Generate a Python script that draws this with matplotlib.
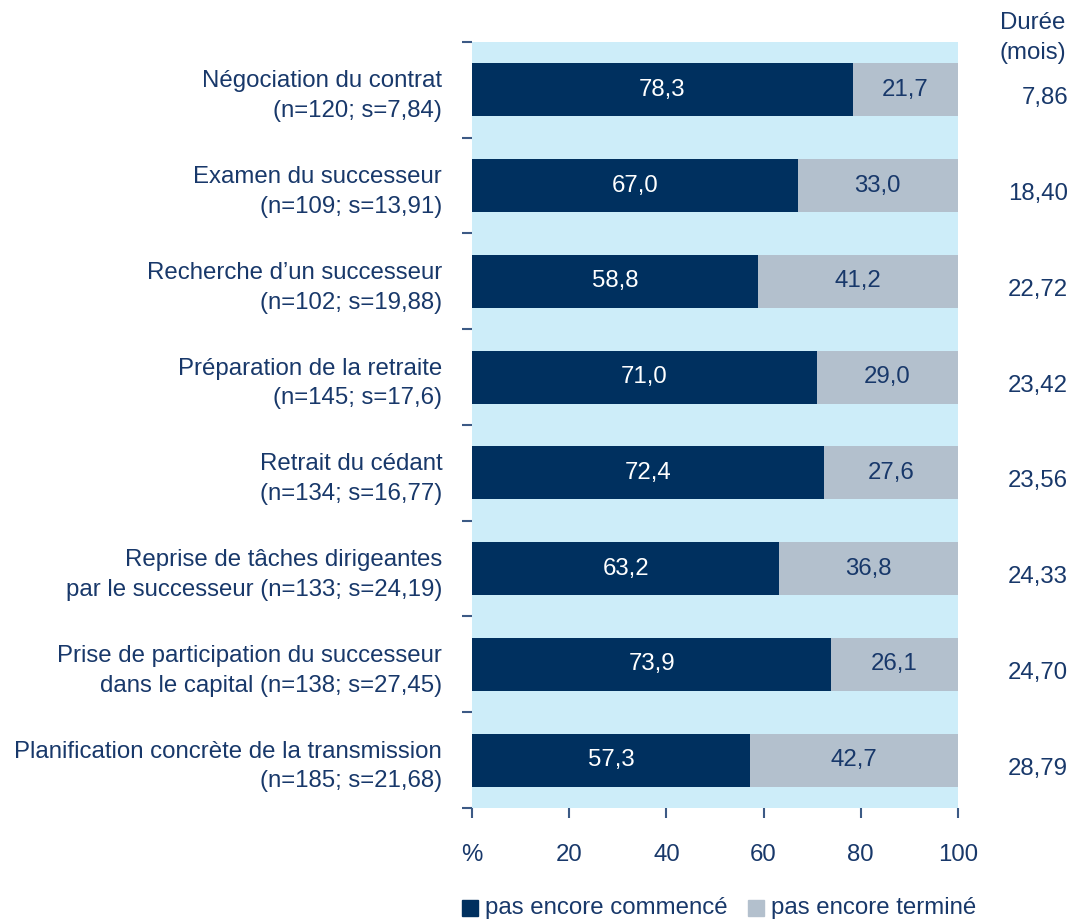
import matplotlib
matplotlib.use("Agg")
import matplotlib.pyplot as plt
from matplotlib.patches import Rectangle
import matplotlib.transforms as mtransforms
import numpy as np

plt.rcParams['font.family'] = ['Liberation Sans', 'DejaVu Sans']

categories = [
    "Négociation du contrat\n(n=120; s=7,84)",
    "Examen du successeur\n(n=109; s=13,91)",
    "Recherche d\u2019un successeur\n(n=102; s=19,88)",
    "Préparation de la retraite\n(n=145; s=17,6)",
    "Retrait du cédant\n(n=134; s=16,77)",
    "Reprise de tâches dirigeantes\npar le successeur (n=133; s=24,19)",
    "Prise de participation du successeur\ndans le capital (n=138; s=27,45)",
    "Planification concrète de la transmission\n(n=185; s=21,68)",
]
not_started = [78.3, 67.0, 58.8, 71.0, 72.4, 63.2, 73.9, 57.3]
not_finished = [21.7, 33.0, 41.2, 29.0, 27.6, 36.8, 26.1, 42.7]
duration = ["7,86", "18,40", "22,72", "23,42", "23,56", "24,33", "24,70", "28,79"]
xticks = [0, 20, 40, 60, 80, 100]
xticklabels = ["%", "20", "40", "60", "80", "100"]

NAVY = "#00305f"
GREY = "#b3c0cd"
BG = "#cdedf9"
TXT = "#18386a"
FS = 17.3

fig = plt.figure(figsize=(10.71, 9.21), dpi=100)
ax = fig.add_axes([0.4407, 0.1227, 0.4538, 0.8317])
ax.set_facecolor(BG)

y = np.arange(len(categories))
h = 0.555
ax.barh(y, not_started, height=h, color=NAVY, edgecolor="none")
ax.barh(y, not_finished, left=not_started, height=h, color=GREY, edgecolor="none")

def fmt(v):
    return f"{v:.1f}".replace(".", ",")

for i, (a, b) in enumerate(zip(not_started, not_finished)):
    ax.text(a / 2, i, fmt(a), ha="center", va="center", color="white", fontsize=FS)
    ax.text(a + b / 2, i, fmt(b), ha="center", va="center", color=TXT, fontsize=FS)

ax.set_xlim(0, 100)
ax.set_ylim(len(categories) - 0.5, -0.5)
for s in ax.spines.values():
    s.set_visible(False)

ax.set_xticks(xticks)
ax.set_xticklabels(xticklabels, fontsize=FS, color=TXT)
ax.tick_params(axis="x", length=7, width=1.5, color="#3c5a85", pad=19)

ax.set_yticks(np.arange(len(categories) + 1) - 0.5)
ax.set_yticklabels([])
ax.set_yticks(y, minor=True)
ax.set_yticklabels(categories, minor=True, fontsize=FS, color=TXT, ha="right",
                   linespacing=1.45)
ax.tick_params(axis="y", which="major", length=7, width=1.5, color="#3c5a85")
ax.tick_params(axis="y", which="minor", length=0, pad=21.5)

# duration column on the right
trans = mtransforms.blended_transform_factory(fig.transFigure, ax.transData)
for i, d in enumerate(duration):
    ax.text(1068 / 1071, i + 0.09, d, transform=trans, ha="right", va="center",
            fontsize=FS, color=TXT)
fig.text(1033 / 1071, 1 - 38 / 921, "Durée\n(mois)", ha="center", va="center",
         fontsize=FS, color=TXT, linespacing=1.45)

# legend
fig.patches.append(Rectangle((462 / 1071, 1 - 916 / 921), 16 / 1071, 16 / 921,
                             transform=fig.transFigure, color=NAVY))
fig.text(485 / 1071, 1 - 908 / 921, "pas encore commencé", ha="left", va="center",
         fontsize=FS, color=TXT)
fig.patches.append(Rectangle((748 / 1071, 1 - 916 / 921), 16 / 1071, 16 / 921,
                             transform=fig.transFigure, color=GREY))
fig.text(771 / 1071, 1 - 908 / 921, "pas encore terminé", ha="left", va="center",
         fontsize=FS, color=TXT)

fig.savefig("out.png", dpi=100, facecolor="white")
